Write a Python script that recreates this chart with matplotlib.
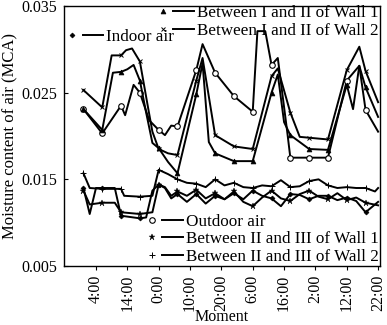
import matplotlib
matplotlib.use('Agg')
import matplotlib.pyplot as plt
from matplotlib.lines import Line2D
from matplotlib.legend_handler import HandlerTuple

plt.rcParams['font.family'] = ['Liberation Serif', 'DejaVu Serif']

# time in hours from 0:00 of the first day, moisture content in MCA
t_outdoor = [0, 6, 12, 13.3, 16, 18, 21, 24, 26, 28, 30, 36, 38, 42, 48, 54, 55.5, 58, 60, 62, 65, 66, 72, 78, 84, 88, 90, 94]
outdoor = [0.0231, 0.0203, 0.0235, 0.0224, 0.0259, 0.0250, 0.0218, 0.0207, 0.0201, 0.0212, 0.0211, 0.0276, 0.0306, 0.0273,
           0.0246, 0.0228, 0.0321, 0.0321, 0.0282, 0.0290, 0.0205, 0.0175, 0.0175, 0.0175, 0.0264, 0.0281, 0.0230, 0.0205]

t_w1_12 = [0, 6, 9.4, 12, 14, 16, 18, 20, 22, 24, 27, 30, 36, 38, 40, 42, 48, 54, 60, 62, 64, 66, 72, 78, 84, 86, 88, 90, 94]
w1_12 = [0.0231, 0.0207, 0.0273, 0.0274, 0.0277, 0.0282, 0.0264, 0.0227, 0.0192, 0.0186, 0.0170, 0.0157, 0.0248, 0.0284, 0.0193,
         0.0180, 0.0171, 0.0171, 0.0250, 0.0271, 0.0216, 0.0201, 0.0185, 0.0184, 0.0259, 0.0231, 0.0281, 0.0256, 0.0222]

t_w2_12 = [0, 6, 9, 12, 13.6, 15.5, 18, 20.6, 22, 24, 27, 30, 36, 38, 42, 48, 54, 60, 62, 66, 69, 72, 78, 84, 88, 90, 94]
w2_12 = [0.0253, 0.0233, 0.0293, 0.0293, 0.0299, 0.0301, 0.0286, 0.0233, 0.0205, 0.0185, 0.0180, 0.0178, 0.0264, 0.0290,
         0.0201, 0.0188, 0.0185, 0.0269, 0.0278, 0.0227, 0.0199, 0.0198, 0.0196, 0.0276, 0.0303, 0.0275, 0.0239]

t_indoor = [0, 2, 4, 6, 10, 12, 18, 20, 22, 24, 26, 28, 30, 33, 36, 39, 42, 45, 48, 51, 54, 57, 60, 63, 66, 69, 72, 75, 78,
            81, 84, 87, 90, 94]
indoor = [0.0140, 0.0110, 0.0140, 0.0140, 0.0140, 0.0108, 0.0105, 0.0106, 0.0137, 0.0144, 0.0140, 0.0128, 0.0133, 0.0124,
          0.0133, 0.0122, 0.0131, 0.0127, 0.0134, 0.0127, 0.0137, 0.0131, 0.0128, 0.0119, 0.0133, 0.0132, 0.0127, 0.0131,
          0.0131, 0.0126, 0.0129, 0.0125, 0.0112, 0.0124]

t_w1_23 = [0, 2, 6, 10, 12, 18, 22, 24, 26, 28, 30, 33, 36, 39, 42, 45, 48, 51, 54, 57, 60, 63, 66, 69, 72, 75, 78, 81, 84,
           87, 90, 94]
w1_23 = [0.0137, 0.0121, 0.0123, 0.0123, 0.0112, 0.0110, 0.0112, 0.0144, 0.0141, 0.0131, 0.0136, 0.0131, 0.0138, 0.0128,
         0.0134, 0.0127, 0.0136, 0.0124, 0.0119, 0.0129, 0.0137, 0.0128, 0.0125, 0.0133, 0.0137, 0.0130, 0.0127, 0.0134,
         0.0126, 0.0129, 0.0123, 0.0120]

t_w2_23 = [0, 2, 6, 12, 13, 18, 22, 24, 27, 30, 33, 36, 39, 42, 45, 48, 51, 54, 57, 60, 63, 66, 69, 72, 75, 78, 81, 84, 87,
           90, 93, 94]
w2_23 = [0.0157, 0.0140, 0.0139, 0.0139, 0.0131, 0.0130, 0.0131, 0.0161, 0.0156, 0.0150, 0.0146, 0.0145, 0.0141, 0.0150,
         0.0143, 0.0146, 0.0141, 0.0140, 0.0143, 0.0142, 0.0149, 0.0141, 0.0142, 0.0148, 0.0150, 0.0143, 0.0140, 0.0141,
         0.0140, 0.0140, 0.0136, 0.0140]

tick_hours = [4, 14, 24, 34, 44, 54, 64, 74, 84, 94]
tick_labels = ['4:00', '14:00', '0:00', '10:00', '20:00', '6:00', '16:00', '2:00', '12:00', '22:00']
y_ticks = [0.005, 0.015, 0.025, 0.035]


def every6(t):
    # markers only on the 6-hourly readings
    return [abs(h / 6 - round(h / 6)) < 1e-9 for h in t]


fig = plt.figure(figsize=(3.87, 3.25), dpi=100)
ax = fig.add_axes([64 / 387, 59 / 325, 316 / 387, 260 / 325])

lw = 1.4
series = [
    (t_outdoor, outdoor, dict(marker='o', ms=4, mfc='white', mew=0.8)),
    (t_w1_12, w1_12, dict(marker='^', ms=3.5, mfc='black', mew=0.5)),
    (t_w2_12, w2_12, dict(marker='x', ms=3.5, mew=0.7)),
    (t_indoor, indoor, dict(marker='D', ms=2.5, mfc='black', mew=0.5)),
    (t_w1_23, w1_23, dict(marker='*', ms=5, mfc='black', mew=0.3)),
    (t_w2_23, w2_23, dict(marker='+', ms=4.5, mew=0.7)),
]
for t, v, style in series:
    ax.plot(t, v, color='black', lw=lw, markevery=every6(t), **style)

ax.set_xlim(-6.2, 94.6)
ax.set_ylim(0.005, 0.035)
ax.set_xticks(tick_hours)
ax.set_xticklabels(tick_labels, rotation=90, fontsize=11.5)
ax.set_yticks(y_ticks)
ax.set_yticklabels(['%.3f' % y for y in y_ticks], fontsize=11.5)
ax.tick_params(axis='y', direction='in', length=3, pad=5)
ax.tick_params(axis='x', direction='out', length=3, pad=3)
ax.set_xlabel('Moment', fontsize=11.5, va='center')
ax.xaxis.set_label_coords(0.5, -51 / 260)
ax.set_ylabel('Moisture content of air (MCA)', fontsize=12, labelpad=2)
for s in ax.spines.values():
    s.set_linewidth(1.0)


def entry(style):
    m = Line2D([], [], color='black', ls='None', **style)
    ln = Line2D([], [], color='black', lw=lw)
    return (m, ln)


leg_kw = dict(frameon=False, fontsize=12.3, borderpad=0, borderaxespad=0, handlelength=2.4,
              handletextpad=0.2, labelspacing=0.1, handler_map={tuple: HandlerTuple(ndivide=None, pad=0)},
              bbox_transform=fig.transFigure)

leg1 = ax.legend([entry(series[1][2]), entry(series[2][2])],
                 ['Between I and II of Wall 1', 'Between I and II of Wall 2'],
                 loc='upper right', bbox_to_anchor=(379 / 387, 1 - 5 / 325), **leg_kw)
ax.add_artist(leg1)
leg2 = ax.legend([entry(series[3][2])], ['Indoor air'],
                 loc='upper left', bbox_to_anchor=(62 / 387, 1 - 29 / 325), **leg_kw)
ax.add_artist(leg2)
ax.legend([entry(series[0][2]), entry(series[4][2]), entry(series[5][2])],
          ['Outdoor air', 'Between II and III of Wall 1', 'Between II and III of Wall 2'],
          loc='lower right', bbox_to_anchor=(379 / 387, 1 - 265 / 325), **leg_kw)

fig.savefig('out.png', dpi=100)
